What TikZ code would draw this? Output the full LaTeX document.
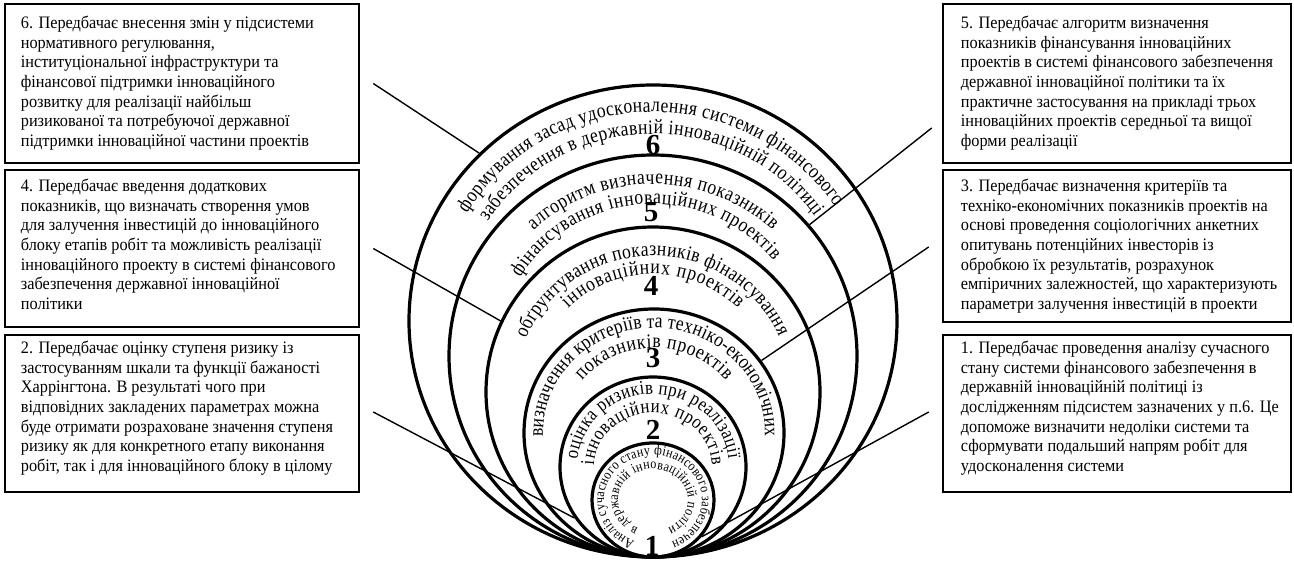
\documentclass[tikz,border=0pt]{standalone}
\usepackage{fontspec}
\setmainfont{Liberation Serif}
\newfontfamily\nfam[FakeStretch=0.93]{Liberation Serif}
\newfontfamily\rfam[FakeStretch=0.86]{Liberation Serif}
\usetikzlibrary{shapes.geometric,decorations.text,calc}
\newcommand{\boxfont}{\nfam\fontsize{17.5}{19.7}\selectfont}
\newcommand{\rfA}{\rfam\fontsize{20.5}{23}\selectfont}
\newcommand{\rfC}{\rfam\fontsize{19.5}{22}\selectfont}
\newcommand{\rfD}{\rfam\fontsize{14}{16}\selectfont}
\newcommand{\ringtext}[7]{%
  \path[decorate, decoration={text along path, text={|#6|#7}, text align={fit to path}}]
  ([shift={(#4:#2pt and #3pt)}]#1.center) arc[start angle=#4, end angle=#5, x radius=#2pt, y radius=#3pt];}
\begin{document}
\begin{tikzpicture}[x=1pt,y=1pt,
  ring/.style={draw, line width=3.2pt, ellipse, inner sep=0pt},
  infobox/.style={draw, line width=2.6pt, rectangle, inner sep=0pt},
  btext/.style={anchor=north west, inner sep=0pt, align=left, font=\boxfont},
  conn/.style={line width=1.4pt},
  num/.style={font=\fontsize{29}{32}\selectfont\bfseries, inner sep=0pt}]
\useasboundingbox[fill=white] (0,0) rectangle (1294,563);

% boxes
\node[infobox, minimum width=354pt, minimum height=159pt] (b6) at (182,479.5) {};
\node[infobox, minimum width=354pt, minimum height=157pt] (b4) at (182,314.5) {};
\node[infobox, minimum width=354pt, minimum height=157pt] (b2) at (182,149.5) {};
\node[infobox, minimum width=348pt, minimum height=159pt] (b5) at (1117,479.5) {};
\node[infobox, minimum width=348pt, minimum height=152pt] (b3) at (1117,317) {};
\node[infobox, minimum width=348pt, minimum height=157pt] (b1) at (1117,149.5) {};

\node[btext] (t6) at ($(b6.north west)+(17,-13)$) {6. Передбачає внесення змін у підсистеми\\нормативного регулювання,\\інституціональної інфраструктури та\\фінансової підтримки інноваційного\\розвитку для реалізації найбільш\\ризикованої та потребуючої державної\\підтримки інноваційної частини проектів};
\node[btext] (t4) at ($(b4.north west)+(17,-10)$) {4. Передбачає введення додаткових\\показників, що визначать створення умов\\для залучення інвестицій до інноваційного\\блоку етапів робіт та можливість реалізації\\інноваційного проекту в системі фінансового\\забезпечення державної інноваційної\\політики};
\node[btext] (t2) at ($(b2.north west)+(17,-7)$) {2. Передбачає оцінку ступеня ризику із\\застосуванням шкали та функції бажаності\\Харрінгтона. В результаті чого при\\відповідних закладених параметрах можна\\буде отримати розраховане значення ступеня\\ризику як для конкретного етапу виконання\\робіт, так і для інноваційного блоку в цілому};
\node[btext] (t5) at ($(b5.north west)+(19,-13)$) {5. Передбачає алгоритм визначення\\показників фінансування інноваційних\\проектів в системі фінансового забезпечення\\державної інноваційної політики та їх\\практичне застосування на прикладі трьох\\інноваційних проектів середньої та вищої\\форми реалізації};
\node[btext] (t3) at ($(b3.north west)+(19,-10)$) {3. Передбачає визначення критеріїв та\\техніко-економічних показників проектів на\\основі проведення соціологічних анкетних\\опитувань потенційних інвесторів із\\обробкою їх результатів, розрахунок\\емпіричних залежностей, що характеризують\\параметри залучення інвестицій в проекти};
\node[btext] (t1) at ($(b1.north west)+(19,-7)$) {1. Передбачає проведення аналізу сучасного\\стану системи фінансового забезпечення в\\державній інноваційній політиці із\\дослідженням підсистем зазначених у п.6. Це\\допоможе визначити недоліки системи та\\сформувати подальший напрям робіт для\\удосконалення системи};

% rings
\node[ring, minimum width=488pt, minimum height=472pt] (e6) at (653,242) {};
\node[ring, minimum width=408pt, minimum height=402pt] (e5) at (653,207) {};
\node[ring, minimum width=334pt, minimum height=330pt] (e4) at (653,171) {};
\node[ring, minimum width=260pt, minimum height=248pt] (e3) at (654,130) {};
\node[ring, minimum width=186pt, minimum height=180pt] (e2) at (653,96) {};
\node[ring, minimum width=122pt, minimum height=114pt] (e1) at (653,63) {};

% ring texts
\ringtext{e6}{217}{209}{149}{33}{\rfA}{формування засад удосконалення системи фінансового}
\ringtext{e6}{195}{187}{148}{34}{\rfA}{забезпечення в державній інноваційній політиці}
\ringtext{e5}{175}{172}{133}{47}{\rfA}{алгоритм визначення показників}
\ringtext{e5}{155}{152}{149}{39}{\rfA}{фінансування інноваційних проектів}
\ringtext{e4}{138}{136}{157}{24}{\rfA}{обґрунтування показників фінансування}
\ringtext{e4}{120}{118}{135}{45}{\rfA}{інноваційних проектів}
\ringtext{e3}{111}{105}{182}{-2}{\rfA}{визначення критеріїв та техніко-економічних}
\ringtext{e3}{91}{85}{142}{38}{\rfA}{показників проектів}
\ringtext{e2}{76}{73}{174}{6}{\rfC}{оцінка ризиків при реалізації}
\ringtext{e2}{59}{54}{178}{2}{\rfC}{інноваційних проектів}
\ringtext{e1}{49}{45}{248}{-68}{\rfD}{Аналіз сучасного стану фінансового забезпечен}
\ringtext{e1}{35}{31}{245}{-65}{\rfD}{в державній інноваційній політи}

% numbers
\node[num] (n6) at (653,418) {6};
\node[num] (n5) at (651,351) {5};
\node[num] (n4) at (651,277) {4};
\node[num] (n3) at (653,205) {3};
\node[num] (n2) at (653,133) {2};
\node[num] (n1) at (652,17) {1};

% connectors
\coordinate (p6) at ($(b6.east)+(13,0)$);
\coordinate (p4) at ($(b4.east)+(13,0)$);
\coordinate (p2) at ($(b2.east)+(13,1.5)$);
\coordinate (p5) at ($(b5.west)+(-10,-44.5)$);
\coordinate (p3) at ($(b3.west)+(-13,-1)$);
\coordinate (p1) at ($(b1.west)+(-13,1.5)$);
\draw[conn] (p6) -- (e6.136);
\draw[conn] (p4) -- (e4.155.7);
\draw[conn] (p2) -- (e2.213.5);
\draw[conn] (p5) -- (e5.40.6);
\draw[conn] (p3) -- (e3.34.4);
\draw[conn] (p1) -- (e1.323.5);
\end{tikzpicture}
\end{document}
